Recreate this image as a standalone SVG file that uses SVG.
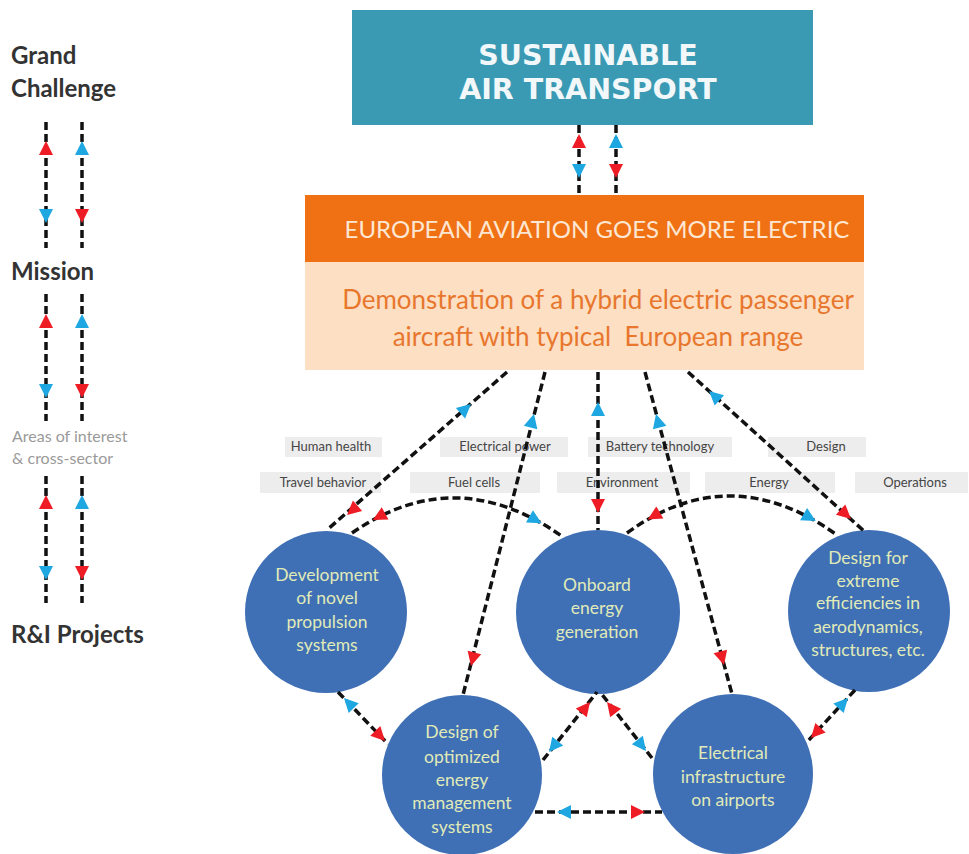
<svg xmlns="http://www.w3.org/2000/svg" xmlns:xlink="http://www.w3.org/1999/xlink" width="969" height="854" viewBox="0 0 969 854">
<style>
.bg{fill:#ffffff}
.lvl{font-family:Lato,"Open Sans",sans-serif;font-weight:bold;font-size:24px;fill:#333333}
.aoi{font-family:Lato,"Open Sans",sans-serif;font-size:16px;fill:#9a9a9a}
.c{fill:none;stroke:#111111;stroke-width:3.5;stroke-dasharray:8 4}
.r{fill:#ee1c24}
.b{fill:#1ea7e1}
.tag rect{fill:#ededed}
.tag text{font-family:Lato,"Open Sans",sans-serif;font-size:13px;fill:#454545;text-anchor:middle}
.circ circle{fill:#3f6fb5}
.circ text{font-family:Lato,"Open Sans",sans-serif;font-size:17.5px;fill:#e0ebb8;text-anchor:middle}
</style>
<defs>
<path id="ah" d="M0,0 L-14,-7 L-14,7 Z"/>
</defs>
<rect class="bg" x="0" y="0" width="969" height="854"/>

<g id="levels">
<text class="lvl" x="11" y="64">Grand</text>
<text class="lvl" x="11" y="97">Challenge</text>
<text class="lvl" x="11" y="280">Mission</text>
<text class="aoi" x="12" y="442">Areas of interest</text>
<text class="aoi" x="12" y="464">&amp; cross-sector</text>
<text class="lvl" x="11" y="643">R&amp;I Projects</text>
</g>

<g id="sustainable">
<rect x="352" y="10" width="461" height="115" fill="#3a9ab4"/>
<text x="588" y="65" font-family="DejaVu Sans,Verdana,sans-serif" font-weight="bold" font-size="28.5" fill="#f2f8fa" text-anchor="middle">SUSTAINABLE</text>
<text x="588" y="99" font-family="DejaVu Sans,Verdana,sans-serif" font-weight="bold" font-size="28.5" fill="#f2f8fa" text-anchor="middle">AIR TRANSPORT</text>
</g>

<g id="mission">
<rect x="305" y="195" width="559" height="67" fill="#ef7114"/>
<text x="597" y="238" font-family="Lato,'Open Sans',sans-serif" font-size="24" fill="#fde6d2" text-anchor="middle">EUROPEAN AVIATION GOES MORE ELECTRIC</text>
<rect x="305" y="262" width="559" height="108" fill="#fddfc4"/>
<text x="598" y="309" font-family="Lato,'Open Sans',sans-serif" font-size="26" fill="#e8772e" text-anchor="middle">Demonstration of a hybrid electric passenger</text>
<text x="598" y="346" font-family="Lato,'Open Sans',sans-serif" font-size="26" fill="#e8772e" text-anchor="middle" xml:space="preserve">aircraft with typical  European range</text>
</g>

<g id="areas" class="tag">
<rect x="285" y="437" width="97" height="20"/><text x="331" y="451">Human health</text>
<rect x="440" y="437" width="128" height="20"/><text x="505" y="451">Electrical power</text>
<rect x="588" y="437" width="144" height="20"/><text x="660" y="451">Battery technology</text>
<rect x="768" y="437" width="98" height="20"/><text x="826" y="451">Design</text>
<rect x="260" y="472" width="121" height="21"/><text x="323" y="487">Travel behavior</text>
<rect x="410" y="472" width="130" height="21"/><text x="474" y="487">Fuel cells</text>
<rect x="557" y="472" width="133" height="21"/><text x="622" y="487">Environment</text>
<rect x="705" y="472" width="130" height="21"/><text x="769" y="487">Energy</text>
<rect x="855" y="472" width="113" height="21"/><text x="915" y="487">Operations</text>
</g>

<g id="proj-propulsion" class="circ">
<circle cx="326" cy="612" r="81"/>
<text x="327" y="581">Development</text>
<text x="327" y="604">of novel</text>
<text x="327" y="628">propulsion</text>
<text x="327" y="651">systems</text>
</g>
<g id="proj-onboard" class="circ">
<circle cx="598" cy="612" r="82"/>
<text x="597" y="591">Onboard</text>
<text x="597" y="614">energy</text>
<text x="597" y="638">generation</text>
</g>
<g id="proj-design" class="circ">
<circle cx="869" cy="611" r="81"/>
<text x="868" y="564">Design for</text>
<text x="868" y="587">extreme</text>
<text x="868" y="609">efficiencies in</text>
<text x="868" y="633">aerodynamics,</text>
<text x="868" y="656">structures, etc.</text>
</g>
<g id="proj-energy-mgmt" class="circ">
<circle cx="462" cy="775" r="80"/>
<text x="462" y="738">Design of</text>
<text x="462" y="763">optimized</text>
<text x="462" y="786">energy</text>
<text x="462" y="809">management</text>
<text x="462" y="833">systems</text>
</g>
<g id="proj-airports" class="circ">
<circle cx="733" cy="774" r="80"/>
<text x="733" y="759">Electrical</text>
<text x="733" y="783">infrastructure</text>
<text x="733" y="806">on airports</text>
</g>

<g id="connectors">
<!-- left legend -->
<line class="c" x1="46" y1="122" x2="46" y2="248"/>
<line class="c" x1="82" y1="122" x2="82" y2="248"/>
<use href="#ah" class="r" transform="translate(46,141) rotate(-90)"/>
<use href="#ah" class="b" transform="translate(46,223) rotate(90)"/>
<use href="#ah" class="b" transform="translate(82,141) rotate(-90)"/>
<use href="#ah" class="r" transform="translate(82,223) rotate(90)"/>
<line class="c" x1="46" y1="294" x2="46" y2="421"/>
<line class="c" x1="82" y1="294" x2="82" y2="421"/>
<use href="#ah" class="r" transform="translate(46,314) rotate(-90)"/>
<use href="#ah" class="b" transform="translate(46,398) rotate(90)"/>
<use href="#ah" class="b" transform="translate(82,314) rotate(-90)"/>
<use href="#ah" class="r" transform="translate(82,398) rotate(90)"/>
<line class="c" x1="46" y1="476" x2="46" y2="603"/>
<line class="c" x1="82" y1="476" x2="82" y2="603"/>
<use href="#ah" class="r" transform="translate(46,495) rotate(-90)"/>
<use href="#ah" class="b" transform="translate(46,580) rotate(90)"/>
<use href="#ah" class="b" transform="translate(82,495) rotate(-90)"/>
<use href="#ah" class="r" transform="translate(82,580) rotate(90)"/>

<!-- grand challenge <-> mission -->
<line class="c" x1="579" y1="125" x2="579" y2="195"/>
<line class="c" x1="616" y1="125" x2="616" y2="195"/>
<use href="#ah" class="r" transform="translate(579,134) rotate(-90)"/>
<use href="#ah" class="b" transform="translate(579,178) rotate(90)"/>
<use href="#ah" class="b" transform="translate(616,134) rotate(-90)"/>
<use href="#ah" class="r" transform="translate(616,178) rotate(90)"/>

<!-- mission -> projects -->
<line class="c" x1="507" y1="372" x2="327" y2="530"/>
<use href="#ah" class="b" transform="translate(471,404) rotate(-41.3)"/>
<use href="#ah" class="r" transform="translate(347,515) rotate(138.7)"/>

<line class="c" x1="545" y1="372" x2="463" y2="695"/>
<use href="#ah" class="b" transform="translate(534,414) rotate(-75.8)"/>
<use href="#ah" class="r" transform="translate(471,666) rotate(104.2)"/>

<line class="c" x1="598" y1="372" x2="598" y2="530"/>
<use href="#ah" class="b" transform="translate(598,402) rotate(-90)"/>
<use href="#ah" class="r" transform="translate(598,513) rotate(90)"/>

<line class="c" x1="645" y1="372" x2="732" y2="694"/>
<use href="#ah" class="b" transform="translate(656,414) rotate(-105.2)"/>
<use href="#ah" class="r" transform="translate(724,665) rotate(74.8)"/>

<line class="c" x1="688" y1="372" x2="865" y2="532"/>
<use href="#ah" class="b" transform="translate(709,391) rotate(-137.9)"/>
<use href="#ah" class="r" transform="translate(851,519) rotate(42.1)"/>

<!-- between projects -->
<path class="c" d="M352,533 Q456,461 563,537"/>
<use href="#ah" class="r" transform="translate(372.8,520.1) rotate(151.3)"/>
<use href="#ah" class="b" transform="translate(541.6,523.3) rotate(29.8)"/>

<path class="c" d="M627,533 Q730,458 837,535"/>
<use href="#ah" class="r" transform="translate(647.7,519.5) rotate(150)"/>
<use href="#ah" class="b" transform="translate(815.7,521.1) rotate(30.1)"/>

<line class="c" x1="338" y1="692" x2="388" y2="744"/>
<use href="#ah" class="b" transform="translate(344,698) rotate(-133.9)"/>
<use href="#ah" class="r" transform="translate(385,741) rotate(46.1)"/>

<line class="c" x1="543" y1="760" x2="597" y2="692"/>
<use href="#ah" class="b" transform="translate(549,752) rotate(128.5)"/>
<use href="#ah" class="r" transform="translate(590,702) rotate(-51.5)"/>

<line class="c" x1="652" y1="758" x2="600" y2="692"/>
<use href="#ah" class="r" transform="translate(607,702) rotate(-128.2)"/>
<use href="#ah" class="b" transform="translate(646,751) rotate(51.8)"/>

<line class="c" x1="855" y1="690" x2="807" y2="742"/>
<use href="#ah" class="b" transform="translate(848,698) rotate(-47.3)"/>
<use href="#ah" class="r" transform="translate(811,738) rotate(132.7)"/>

<line class="c" x1="535" y1="812" x2="662" y2="812"/>
<use href="#ah" class="b" transform="translate(557,812) rotate(180)"/>
<use href="#ah" class="r" transform="translate(645,812) rotate(0)"/>
</g>
</svg>
